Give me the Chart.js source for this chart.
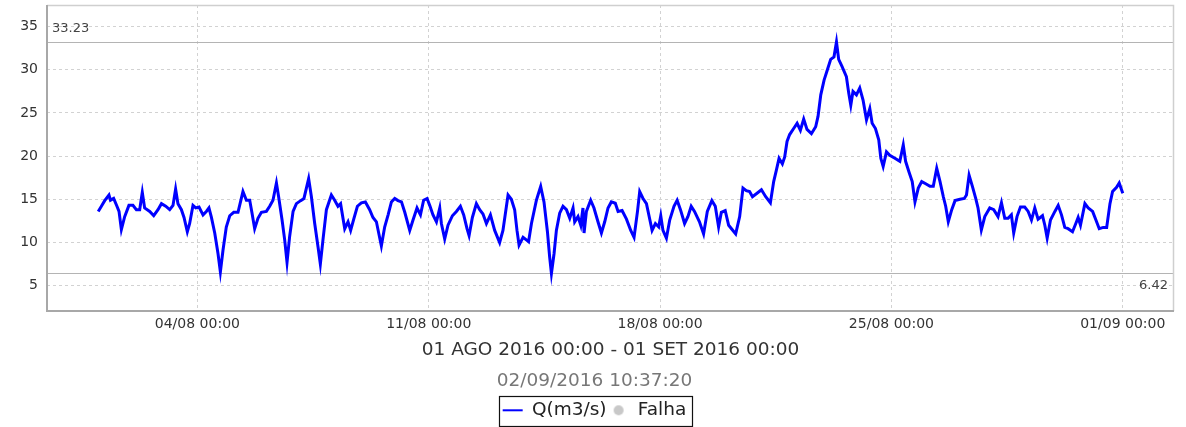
<!DOCTYPE html>
<html>
<head>
<meta charset="utf-8">
<script src="https://cdn.jsdelivr.net/npm/chart.js@4.4.1/dist/chart.umd.min.js"></script>
<style>
  html, body { margin: 0; padding: 0; background: #ffffff; }
  #wrap { width: 1186px; height: 427px; position: relative; }
</style>
</head>
<body>
<div id="wrap"><canvas id="c" width="1186" height="427"></canvas></div>
<script>
// Vazão Q(m3/s) — horas contadas desde 01/08/2016 00:00
const HOURS = [
  0, 2.3, 4.7, 7.8, 8.9, 11.2, 13.6, 15.1, 16.8, 19.2, 22.3, 25.2, 27.7, 30.1, 32.0, 33.7,
  37.4, 40.3, 43.4, 45.9, 49.0, 51.9, 54.3, 56.2, 57.9, 60.4, 62.3, 64.7, 66.4, 68.8, 70.8,
  73.2, 76.1, 78.5, 80.4, 82.2, 84.6, 87.0, 88.7, 90.6, 93.0, 95.5, 98.4, 101.5,
  105.1, 107.6, 110.0, 111.7, 113.6, 116.0, 118.5, 122.1, 124.5, 126.9, 129.4, 131.0, 133.5,
  135.4, 137.1, 139.0, 141.5, 143.9, 147.0, 149.4, 152.8, 154.8, 157.2, 159.6, 161.3, 163.2,
  165.7, 169.3, 171.7, 174.1, 176.0, 179.0, 181.4, 183.3, 185.7, 188.2, 191.1, 194.0, 197.1,
  199.5, 202.0, 205.6,
  208.0, 210.5, 212.9, 215.3, 217.7, 220.2, 222.6, 226.2, 228.6, 231.5, 234.0, 236.3, 238.8,
  240.7, 243.1, 245.6, 248.0, 249.2, 251.6, 254.0, 257.2, 260.1, 263.0, 265.4, 267.8, 269.3,
  271.7, 274.6, 277.0, 279.4, 281.9, 284.8, 287.9, 291.5, 293.9, 297.6, 300.0, 302.4, 304.1,
  305.6, 308.5, 310.9, 312.5,
  314.6, 318.2, 321.3, 323.7, 326.2, 327.8, 329.1, 331.0, 332.7, 335.1, 337.5, 340.0, 342.4,
  344.8, 346.0, 348.4, 350.4, 352.0, 352.8, 354.5, 357.6, 360.0, 362.9, 365.4, 367.8, 370.2,
  372.6, 375.5, 377.5, 380.4, 383.6, 386.7, 389.1, 391.6, 393.2, 395.6, 398.1, 400.5, 402.2,
  404.6, 407.0, 408.5, 410.1, 412.6, 415.0, 418.1,
  420.4, 422.8, 425.8, 428.2, 430.6, 433.0, 436.6, 439.6, 442.3, 445.6, 448.1, 450.5, 452.5,
  455.3, 457.8, 460.3, 462.9, 465.8, 468.2, 470.6, 473.0, 475.1, 478.4, 481.6, 484.7, 488.1,
  490.5, 492.5, 494.4, 496.8, 498.5, 500.2, 502.1, 505.0, 507.5, 509.9, 512.3, 514.7, 517.9,
  521.0,
  522.7, 524.7, 527.1, 529.5, 531.9, 534.3, 536.1, 537.7, 540.1, 543.3, 545.0, 546.5, 548.1,
  550.6, 553.0, 555.4, 557.9, 560.3, 562.0, 564.4, 566.8, 568.3, 570.0, 572.4, 574.8, 578.5,
  582.1, 584.6, 586.3, 588.7, 591.1, 593.1, 595.5, 598.0, 600.9, 604.0, 606.4, 608.9, 611.3,
  613.7, 615.4, 617.3, 619.8, 622.2, 625.8, 628.9,
  630.5, 632.4, 634.8, 637.2, 638.9, 641.3, 643.8, 647.4, 650.3, 653.4, 655.9, 658.3, 660.7,
  663.1, 664.8, 667.2, 669.7, 672.8, 675.3, 677.7, 680.1, 682.5, 685.7, 687.4, 689.1, 691.5,
  694.7, 697.1, 699.5, 701.9, 704.3, 707.5, 709.9, 711.6, 713.3, 716.5, 718.9, 722.1, 724.5,
  726.9, 729.8, 732.3, 734.7, 736.6, 739.5, 741.4, 744.0
];
const FLOW = [
  13.6, 14.2, 14.85, 15.5, 14.9, 15.1, 14.2, 13.6, 11.5, 13.0, 14.3, 14.3, 13.8, 13.8, 15.8, 14.0,
  13.6, 13.1, 13.8, 14.5, 14.2, 13.8, 14.3, 16.2, 14.5, 13.8, 12.9, 11.25, 12.2, 14.3, 14.0,
  14.1, 13.2, 13.6, 14.0, 12.9, 11.1, 8.7, 6.6, 9.1, 11.8, 13.1, 13.5, 13.5,
  15.9, 14.9, 14.9, 13.4, 11.6, 12.8, 13.5, 13.6, 14.2, 14.9, 16.9, 15.3, 12.6,
  10.3, 7.7, 10.7, 13.6, 14.5, 14.85, 15.1, 17.4, 15.3, 12.2, 9.5, 7.5, 10.3,
  13.8, 15.5, 14.9, 14.2, 14.5, 11.6, 12.4, 11.4, 12.8, 14.2, 14.6, 14.7, 13.8,
  12.9, 12.4, 9.6,
  11.8, 13.2, 14.7, 15.1, 14.85, 14.7, 13.5, 11.4, 12.6, 14.0, 13.2, 14.9, 15.1,
  14.3, 13.2, 12.4, 14.0, 12.2, 10.4, 12.0, 13.1, 13.6, 14.2, 13.2, 11.6, 10.8,
  12.9, 14.5, 13.8, 13.3, 12.2, 13.2, 11.4, 10.0, 11.4, 15.5, 15.0, 13.8, 11.4,
  9.7, 10.6, 10.3, 10.1,
  12.2, 14.9, 16.5, 14.7, 11.25, 8.35, 6.42, 8.7, 11.4, 13.4, 14.2, 13.8, 12.8,
  14.0, 12.4, 13.0, 12.0, 14.0, 11.1, 13.6, 14.9, 14.0, 12.4, 11.1, 12.4, 14.0,
  14.7, 14.55, 13.6, 13.7, 12.7, 11.4, 10.6, 13.6, 15.9, 15.1, 14.5, 12.7, 11.4,
  12.2, 11.8, 13.1, 11.4, 10.5, 12.6, 14.2,
  14.9, 13.8, 12.2, 13.0, 14.2, 13.6, 12.4, 11.0, 13.6, 14.85, 14.2, 11.8, 13.5,
  13.7, 12.0, 11.5, 11.0, 13.0, 16.3, 16.0, 15.9, 15.3, 15.7, 16.1, 15.3, 14.6,
  17.05, 18.4, 19.75, 19.1, 19.9, 21.7, 22.5, 23.2, 23.8, 23.0, 24.3, 23.1, 22.6,
  23.4,
  24.6, 27.1, 28.8, 30.0, 31.2, 31.5, 33.23, 31.2, 30.4, 29.2, 27.3, 25.9, 27.5,
  27.1, 27.9, 26.5, 24.2, 25.5, 23.8, 23.2, 21.9, 19.75, 18.8, 20.5, 20.1, 19.75,
  19.4, 21.3, 19.4, 18.2, 17.05, 14.7, 16.3, 17.05, 16.8, 16.5, 16.5, 18.6, 17.05,
  15.3, 14.2, 12.4, 13.8, 14.85, 15.0, 15.1,
  15.5, 17.8, 16.5, 15.1, 14.0, 11.45, 13.0, 14.0, 13.8, 13.0, 14.6, 12.8, 12.8,
  13.2, 11.1, 13.0, 14.1, 14.1, 13.6, 12.6, 14.0, 12.7, 13.1, 12.0, 10.5, 12.6,
  13.6, 14.3, 13.2, 11.75, 11.6, 11.25, 12.2, 12.9, 12.0, 14.5, 14.0, 13.6, 12.6,
  11.6, 11.75, 11.75, 14.5, 15.9, 16.4, 16.9, 15.7
];

const X_TICK_HOURS = [72, 240, 408, 576, 744];
const X_TICK_LABELS = ['04/08 00:00', '11/08 00:00', '18/08 00:00', '25/08 00:00', '01/09 00:00'];
const Y_TICKS = [5, 10, 15, 20, 25, 30, 35];
const FLOW_MAX = 33.23;
const FLOW_MIN = 6.42;
const SERIES_LABEL = 'Q(m3/s)';
const FAULT_LABEL = 'Falha';
const PERIOD_TEXT = '01 AGO 2016 00:00 - 01 SET 2016 00:00';
const GENERATED_AT = '02/09/2016 10:37:20';

const FONT = "'DejaVu Sans', 'Liberation Sans', sans-serif";
const X_MIN = -37.2, X_MAX = 781.2;   // período + margem de ~5 % de cada lado
const Y_MIN = 2.07, Y_MAX = 37.5;

// marcador circular cinza usado na legenda de "Falha"
const faultDot = document.createElement('canvas');
faultDot.width = 12; faultDot.height = 12;
(function () {
  const g = faultDot.getContext('2d');
  g.fillStyle = '#c8c8c8';
  g.beginPath(); g.arc(6, 6, 5, 0, Math.PI * 2); g.fill();
})();

const points = HOURS.map((h, i) => ({ x: h, y: FLOW[i] }));

// moldura do gráfico, linhas de máximo/mínimo e caixa da legenda
const decorations = {
  id: 'decorations',
  beforeDatasetsDraw(chart) {
    const { ctx, chartArea: a, scales: { y } } = chart;
    ctx.save();
    ctx.strokeStyle = '#b4b4b4';
    ctx.lineWidth = 1.2;
    [FLOW_MAX, FLOW_MIN].forEach(v => {
      const py = Math.round(y.getPixelForValue(v)) + 0.5;
      ctx.beginPath(); ctx.moveTo(a.left, py); ctx.lineTo(a.right, py); ctx.stroke();
    });
    ctx.restore();
  },
  afterDatasetsDraw(chart) {
    const { ctx, chartArea: a, scales: { y } } = chart;
    ctx.save();
    ctx.font = '13px ' + FONT;
    ctx.fillStyle = '#444';
    ctx.textBaseline = 'middle';
    ctx.textAlign = 'left';
    ctx.fillText(FLOW_MAX.toFixed(2), a.left + 5, y.getPixelForValue(FLOW_MAX) - 13.5);
    ctx.textAlign = 'right';
    ctx.fillText(FLOW_MIN.toFixed(2), a.right - 6, y.getPixelForValue(FLOW_MIN) + 12.6);

    // moldura da área de plotagem
    ctx.lineWidth = 1.5;
    ctx.strokeStyle = '#cfcfcf';
    ctx.beginPath();
    ctx.moveTo(a.left, a.top + 0.5); ctx.lineTo(a.right - 0.5, a.top + 0.5); ctx.lineTo(a.right - 0.5, a.bottom);
    ctx.stroke();
    ctx.lineWidth = 2;
    ctx.strokeStyle = '#a8a8a8';
    ctx.beginPath();
    ctx.moveTo(a.left, a.top); ctx.lineTo(a.left, a.bottom); ctx.lineTo(a.right, a.bottom);
    ctx.stroke();

    // borda da legenda
    const boxes = chart.legend && chart.legend.legendHitBoxes;
    if (boxes && boxes.length) {
      const l = boxes[0].left - 4;
      const r = boxes[boxes.length - 1].left + boxes[boxes.length - 1].width + 5;
      const t = boxes[0].top - 5;
      const b = boxes[0].top + boxes[0].height + 6;
      ctx.lineWidth = 1.2;
      ctx.strokeStyle = '#111';
      ctx.strokeRect(Math.round(l) + 0.5, Math.round(t) + 0.5, Math.round(r - l), Math.round(b - t));
    }
    ctx.restore();
  }
};

new Chart(document.getElementById('c'), {
  type: 'line',
  data: {
    datasets: [
      {
        label: SERIES_LABEL,
        data: points,
        borderColor: '#0000ff',
        backgroundColor: '#0000ff',
        borderWidth: 3,
        pointRadius: 0,
        tension: 0,
        fill: false,
        legendStyle: 'line',
        legendWidth: 2
      },
      {
        label: FAULT_LABEL,
        data: [],
        borderColor: '#c8c8c8',
        backgroundColor: '#c8c8c8',
        pointRadius: 0,
        legendStyle: faultDot,
        legendWidth: 0
      }
    ]
  },
  options: {
    responsive: false,
    animation: false,
    devicePixelRatio: 1,
    events: [],
    layout: { padding: { left: 15, right: 12, top: 5, bottom: 2.95 } },
    scales: {
      x: {
        type: 'linear',
        min: X_MIN,
        max: X_MAX,
        afterBuildTicks: s => { s.ticks = X_TICK_HOURS.map(v => ({ value: v })); },
        afterFit: s => { s.height = 22; s.paddingLeft = 0; s.paddingRight = 0; },
        ticks: {
          autoSkip: false,
          maxRotation: 0,
          padding: 5,
          color: '#333',
          font: { family: FONT, size: 14 },
          callback: v => X_TICK_LABELS[X_TICK_HOURS.indexOf(v)]
        },
        grid: { color: '#d2d2d2', lineWidth: 1, drawTicks: false },
        border: { display: false, dash: [3, 3] }
      },
      y: {
        type: 'linear',
        min: Y_MIN,
        max: Y_MAX,
        afterBuildTicks: s => { s.ticks = Y_TICKS.map(v => ({ value: v })); },
        afterFit: s => { s.width = 32; s.paddingTop = 0; s.paddingBottom = 0; },
        ticks: {
          padding: 9,
          color: '#333',
          font: { family: FONT, size: 14 },
          callback: v => String(v)
        },
        grid: { color: '#d2d2d2', lineWidth: 1, drawTicks: false },
        border: { display: false, dash: [3, 3] }
      }
    },
    plugins: {
      tooltip: { enabled: false },
      title: {
        display: true,
        text: PERIOD_TEXT,
        position: 'bottom',
        fullSize: false,
        weight: 100,
        color: '#333',
        font: { family: FONT, size: 18.5, weight: 'normal' },
        padding: { top: 5.6, bottom: 0 }
      },
      subtitle: {
        display: true,
        text: GENERATED_AT,
        position: 'bottom',
        fullSize: true,
        weight: 200,
        color: '#777',
        font: { family: FONT, size: 18.5, weight: 'normal' },
        padding: { top: 9.1, bottom: 6.95 }
      },
      legend: {
        display: true,
        position: 'bottom',
        fullSize: true,
        weight: 300,
        maxHeight: 25,
        labels: {
          usePointStyle: true,
          pointStyleWidth: 20,
          padding: 2,
          color: '#222',
          font: { family: FONT, size: 18.5 },
          generateLabels: chart => chart.data.datasets.map((ds, i) => ({
            text: ds.label,
            fillStyle: ds.backgroundColor,
            strokeStyle: ds.borderColor,
            fontColor: '#222',
            lineWidth: ds.legendWidth,
            pointStyle: ds.legendStyle,
            hidden: false,
            datasetIndex: i
          }))
        }
      }
    }
  },
  plugins: [decorations]
});
</script>
</body>
</html>
